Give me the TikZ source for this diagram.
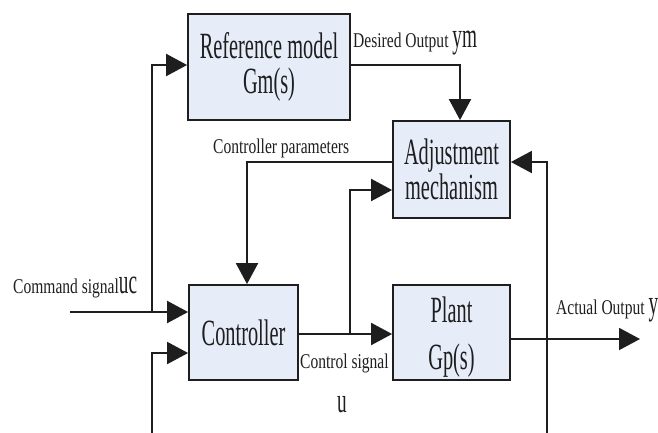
\documentclass[tikz,border=0pt]{standalone}
\usepackage{fontspec}
\usetikzlibrary{arrows.meta}
\setmainfont{Liberation Serif}
\newfontfamily\boxfont[FakeStretch=0.55]{Liberation Serif}
\newfontfamily\lblfont[FakeStretch=0.74]{Liberation Serif}
\definecolor{boxfill}{RGB}{230,236,248}
\definecolor{ink}{RGB}{30,30,30}
\newcommand{\bigsym}{\boxfont\fontsize{35}{35}\selectfont}
\tikzset{
  blk/.style={draw=ink, line width=1.8pt, fill=boxfill, inner sep=0pt,
    align=center, text=ink, font=\boxfont\fontsize{37}{35}\selectfont},
  blktxt/.style={inner sep=0pt, align=center, text=ink},
  wire/.style={draw=ink, line width=2pt},
  arr/.style={wire, -{Triangle[length=21pt,width=22pt]}},
  lbl/.style={anchor=base west, inner sep=0pt, text=ink,
    font=\lblfont\fontsize{21}{23}\selectfont},
  sym/.style={text=ink, font=\bigsym}
}
\begin{document}
\begin{tikzpicture}[x=1pt,y=-1pt]
\useasboundingbox (0,0) rectangle (658,432);

% blocks
\node[blk, minimum width=162pt, minimum height=106pt] (ref) at (269,67)
  {Reference model\\Gm(s)};
\node[blk, minimum width=117pt, minimum height=97pt] (adj) at (451.5,169.5)
  {Adjustment\\mechanism};
\node[blk, minimum width=109pt, minimum height=95pt] (ctrl) at (243.5,332.5)
  {Controller};
\node[blk, minimum width=117pt, minimum height=95pt] (plant) at (451.5,332.5) {};
\node[blktxt, font=\boxfont\fontsize{37}{47}\selectfont] (plantlbl)
  at ([yshift=-5pt]plant.center) {Plant\\Gp(s)};

% routing points
\coordinate (dm) at (460,65);
\coordinate (cs) at (70,312);
\coordinate (j1) at (152,312);
\coordinate (b1) at (152,433);
\coordinate (c2) at (0,353);
\coordinate (pk) at (247,162);
\coordinate (cl) at (0,334);
\coordinate (j2) at (350,334);
\coordinate (ai) at (0,190);
\coordinate (ol) at (0,339);
\coordinate (yout) at (640,339);
\coordinate (b3) at (547,433);

% connectors
\draw[arr] (ref.east |- dm) -- (dm) -- (dm |- adj.north);
\draw[arr] (cs) -- (cs -| ctrl.west);
\draw[arr] (j1) |- (ref.west |- dm);
\draw[arr] (b1) |- (ctrl.west |- c2);
\draw[arr] (adj.west |- pk) -- (pk) -- (pk |- ctrl.north);
\draw[arr] (ctrl.east |- cl) -- (plant.west |- cl);
\draw[arr] (j2) |- (adj.west |- ai);
\draw[arr] (plant.east |- ol) -- (yout);
\draw[arr] (b3) |- (adj.east |- pk);

% signal labels
\node[lbl] (ldes) at (353,47) {Desired Output {\bigsym ym}};
\node[lbl] (lpar) at (213,153) {Controller parameters};
\node[lbl] (lcmd) at (13,293) {Command signal{\bigsym uc}};
\node[lbl] (lctl) at (300,368) {Control signal};
\node[sym, anchor=base, inner sep=0pt] (lu) at (342,412) {u};
\node[lbl] (lout) at (556,314) {Actual Output {\bigsym y}};
\end{tikzpicture}
\end{document}
